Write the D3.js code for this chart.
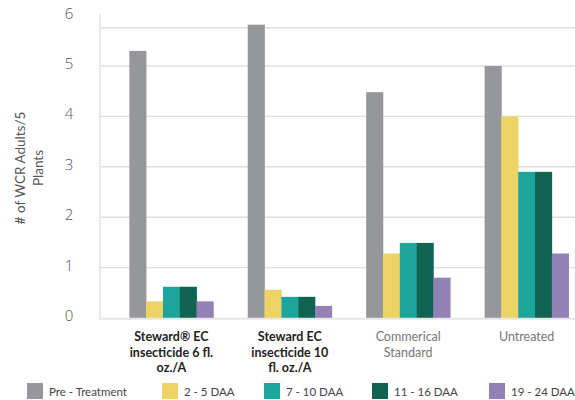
<!DOCTYPE html>
<html><head><meta charset="utf-8">
<script src="https://cdn.jsdelivr.net/npm/d3@7/dist/d3.min.js"></script>
<style>
html,body{margin:0;padding:0;background:#fff;}
svg{display:block;}
text{font-family:"Open Sans",sans-serif;}
</style></head>
<body>
<svg id="chart" width="575" height="400"></svg>
<script>
const categories = [
  ["Steward® EC", "insecticide 6 fl.", "oz./A"],
  ["Steward EC", "insecticide 10", "fl. oz./A"],
  ["Commerical", "Standard"],
  ["Untreated"]
];
const boldCategory = [true, true, false, false];
const seriesNames = ["Pre - Treatment", "2 - 5 DAA", "7 - 10 DAA", "11 - 16 DAA", "19 - 24 DAA"];
const seriesColors = ["#96979a", "#edd264", "#1ca59b", "#0f6350", "#9181b4"];
const preTreatment = [5.3, 5.82, 4.48, 5.0];
const daa2to5 = [0.33, 0.56, 1.28, 4.0];
const daa7to10 = [0.62, 0.42, 1.49, 2.9];
const daa11to16 = [0.62, 0.42, 1.49, 2.9];
const daa19to24 = [0.33, 0.24, 0.8, 1.28];
const yTicks = [0, 1, 2, 3, 4, 5, 6];
const gridValues = [1, 2, 3, 4, 5, 5.76];

const series = [preTreatment, daa2to5, daa7to10, daa11to16, daa19to24];
const svg = d3.select("#chart");

const y = d3.scaleLinear().domain([0, 6]).range([318, 15.6]);
const catIdx = categories.map((c, i) => i);
const x0 = d3.scaleBand().domain(catIdx).range([95, 603]).paddingInner(0.29).paddingOuter(0.29);
const x1 = d3.scaleBand().domain(d3.range(seriesNames.length)).range([0, x0.bandwidth()]);

// gridlines
svg.append("g").selectAll("line").data(gridValues).join("line")
  .attr("x1", 100).attr("x2", 575)
  .attr("y1", d => y(d)).attr("y2", d => y(d))
  .attr("stroke", "#dedede").attr("stroke-width", 1.4);

// left axis line
svg.append("line").attr("x1", 100).attr("x2", 100)
  .attr("y1", y(6) - 1.5).attr("y2", y(0))
  .attr("stroke", "#e3e3e3").attr("stroke-width", 1.5);

// bars
const g = svg.append("g");
catIdx.forEach(ci => {
  series.forEach((s, si) => {
    g.append("rect")
      .attr("x", x0(ci) + x1(si))
      .attr("width", x1.bandwidth() + 0.3)
      .attr("y", y(s[ci]))
      .attr("height", y(0) - y(s[ci]))
      .attr("fill", seriesColors[si]);
  });
});

// baseline
svg.append("line").attr("x1", 99).attr("x2", 575)
  .attr("y1", y(0) + 0.8).attr("y2", y(0) + 0.8)
  .attr("stroke", "#e6e6e6").attr("stroke-width", 2);

// y tick labels
svg.append("g").selectAll("text").data(yTicks).join("text")
  .attr("x", 69).attr("y", d => y(d) - 3)
  .attr("text-anchor", "middle").attr("dominant-baseline", "central")
  .attr("font-size", 15).attr("fill", "#555").attr("font-weight", 300)
  .text(d => d);

// y title
const yt = svg.append("text").attr("transform", "translate(0,168) rotate(-90)")
  .attr("text-anchor", "middle").attr("font-size", 13.5).attr("fill", "#555")
  .style("font-family", "Lato, sans-serif");
yt.append("tspan").attr("x", 0).attr("y", 25).text("# of WCR Adults/5");
yt.append("tspan").attr("x", 0).attr("y", 43).text("Plants");

// x labels
catIdx.forEach(ci => {
  const cx = x0(ci) + x0.bandwidth() / 2;
  const t = svg.append("text").attr("text-anchor", "middle")
    .style("font-family", "Lato, sans-serif")
    .attr("font-size", 12.5)
    .attr("font-weight", boldCategory[ci] ? 700 : 400)
    .attr("fill", boldCategory[ci] ? "#222" : "#777");
  categories[ci].forEach((line, li) => {
    t.append("tspan").attr("x", cx).attr("y", 341 + li * 15.5).text(line);
  });
});

// legend
const legendX = [27, 162, 264, 372, 489];
seriesNames.forEach((n, i) => {
  svg.append("rect").attr("x", legendX[i]).attr("y", 383).attr("width", 16).attr("height", 16)
    .attr("fill", seriesColors[i]);
  svg.append("text").attr("x", legendX[i] + 22).attr("y", 391)
    .attr("dominant-baseline", "central").attr("font-size", 11.5).attr("fill", "#444")
    .style("font-family", "Lato, sans-serif")
    .text(n);
});
</script>
</body></html>
